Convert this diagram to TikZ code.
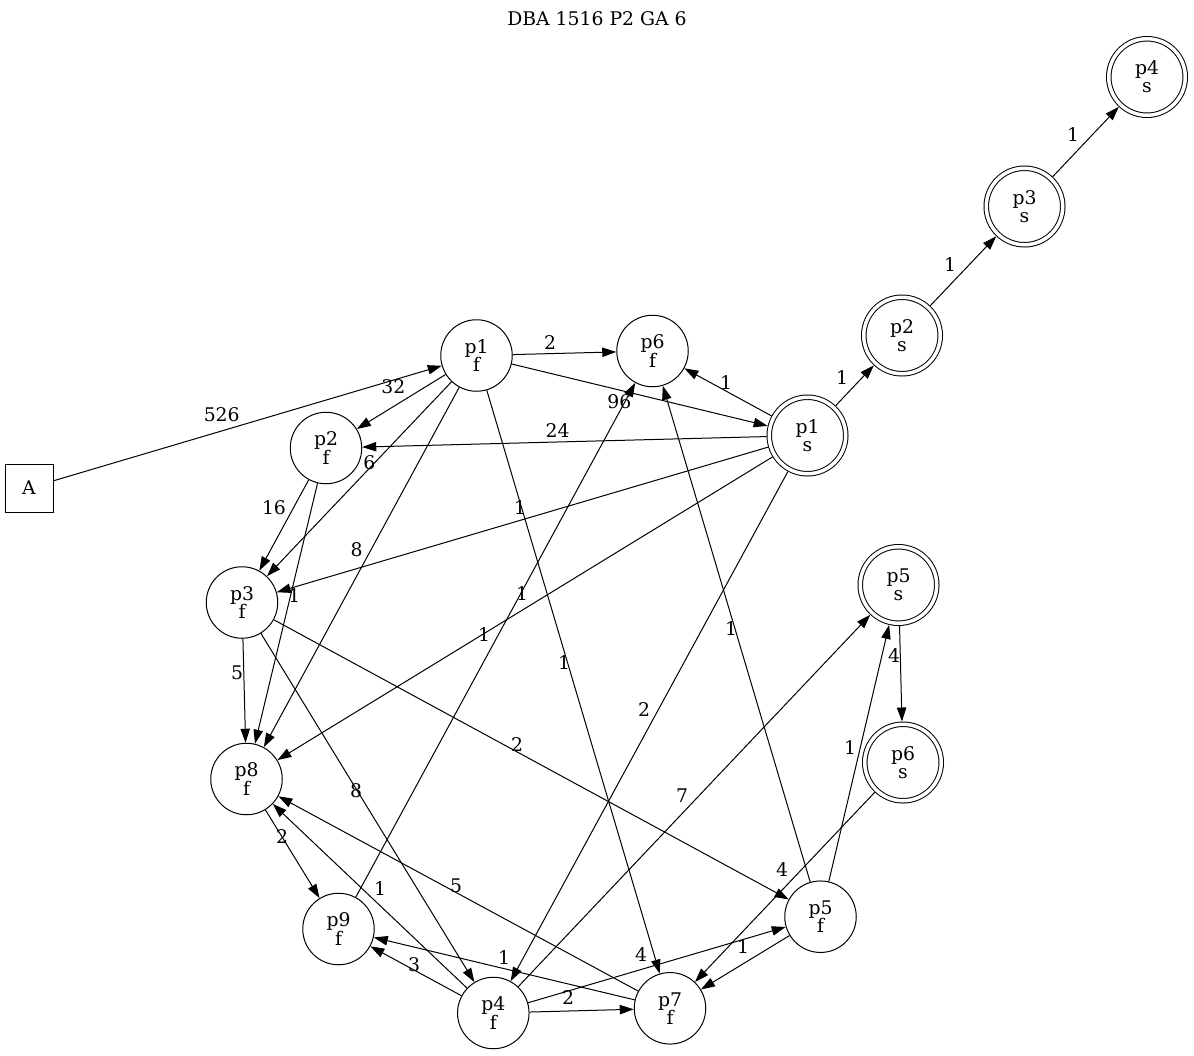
\documentclass[tikz,border=0pt]{standalone}
\usepackage{fontspec}
\setmainfont{DejaVu Serif}
\usetikzlibrary{arrows.meta}
\lineskiplimit=-\maxdimen
\newcommand{\StateF}[2][]{\node[fstate, #1] (#2f) {#2\\f};}
\newcommand{\StateS}[2][]{\node[sstate, #1] (#2s) {#2\\s};}
\newcommand{\EdgeL}[4]{\draw[trans] (#1) -- (#2) node[elabel, at={(#3)}] {#4};}

\begin{document}
\begin{tikzpicture}[x=0.5pt, y=-0.5pt,
  every node/.style={font=\fontsize{9.4}{9.15}\selectfont},
  fstate/.style={circle, draw, line width=0.5pt, minimum size=35.75pt, inner sep=0pt, align=center},
  sstate/.style={circle, draw, double, line width=0.5pt, double distance=1.75pt, minimum size=38.25pt, inner sep=0pt, outer sep=1.375pt, align=center},
  initbox/.style={rectangle, draw, line width=0.5pt, minimum size=24pt, inner sep=0pt},
  trans/.style={-{Triangle[length=7pt, width=4.7pt]}, line width=0.5pt},
  elabel/.style={inner sep=0pt}]
\useasboundingbox (0,0) rectangle (1194,1055);

\node[anchor=base] (title) at (597,25.7) {DBA 1516 P2 GA 6};
\node[initbox] (A) at (29,488) {A};

	\StateF[at={(476.5,355.5)}]{p1}
	\StateF[at={(652.5,351)}]{p6}
	\StateF[at={(326,448)}]{p2}
	\StateF[at={(242,602.5)}]{p3}
	\StateF[at={(246.5,779)}]{p8}
	\StateF[at={(338.5,929)}]{p9}
	\StateF[at={(493.3,1013)}]{p4}
	\StateF[at={(670,1008.3)}]{p7}
	\StateF[at={(820.5,916.7)}]{p5}
	
	\StateS[at={(807.5,435.5)}]{p1}
	\StateS[at={(902,335.5)}]{p2}
	\StateS[at={(1024.5,206.5)}]{p3}
	\StateS[at={(1147,77)}]{p4}
	\StateS[at={(898.5,585)}]{p5}
	\StateS[at={(903,762.5)}]{p6}
	
	\EdgeL{A}{p1f}{221.7,414.3}{526}
	\EdgeL{p1f}{p6f}{550,342.3}{2}
	\EdgeL{p1f}{p1s}{619.3,401.7}{96}
	\EdgeL{p1f}{p2f}{393.3,386.7}{32}
	\EdgeL{p1f}{p3f}{369.3,462.3}{6}
	\EdgeL{p1f}{p8f}{356.7,550}{8}
	\EdgeL{p1f}{p7f}{564,663}{1}
	
	\EdgeL{p1s}{p6f}{726,383}{1}
	\EdgeL{p1s}{p2s}{842,378}{1}
	\EdgeL{p1s}{p2f}{557.7,430.7}{24}
	\EdgeL{p1s}{p3f}{520,507.3}{1}
	\EdgeL{p1s}{p8f}{484,634.3}{1}
	\EdgeL{p1s}{p4f}{644,710}{2}
	\EdgeL{p2s}{p3s}{950,265}{1}
	\EdgeL{p3s}{p4s}{1073,135}{1}
	
	\EdgeL{p2f}{p3f}{274,507.7}{16}
	\EdgeL{p2f}{p8f}{294.3,595.3}{1}
	\EdgeL{p3f}{p8f}{237,673}{5}
	\EdgeL{p3f}{p4f}{356,791}{8}
	\EdgeL{p3f}{p5f}{517,745}{2}
	\EdgeL{p8f}{p9f}{282,837}{2}
	\EdgeL{p9f}{p6f}{522,594}{1}
	
	\EdgeL{p4f}{p8f}{380,889}{1}
	\EdgeL{p4f}{p9f}{414,965}{3}
	\EdgeL{p4f}{p7f}{568,998}{2}
	\EdgeL{p4f}{p5f}{641,955}{4}
	\EdgeL{p4f}{p5s}{682,796}{7}
	\EdgeL{p7f}{p8f}{456,886}{5}
	\EdgeL{p7f}{p9f}{504,958}{1}
	
	\EdgeL{p5f}{p6f}{731,629}{1}
	\EdgeL{p5f}{p5s}{850,748}{1}
	\EdgeL{p5f}{p7f}{743,947}{1}
	\EdgeL{p5s}{p6s}{894,656}{4}
	\EdgeL{p6s}{p7f}{782,870}{4}

\end{tikzpicture}
\end{document}
